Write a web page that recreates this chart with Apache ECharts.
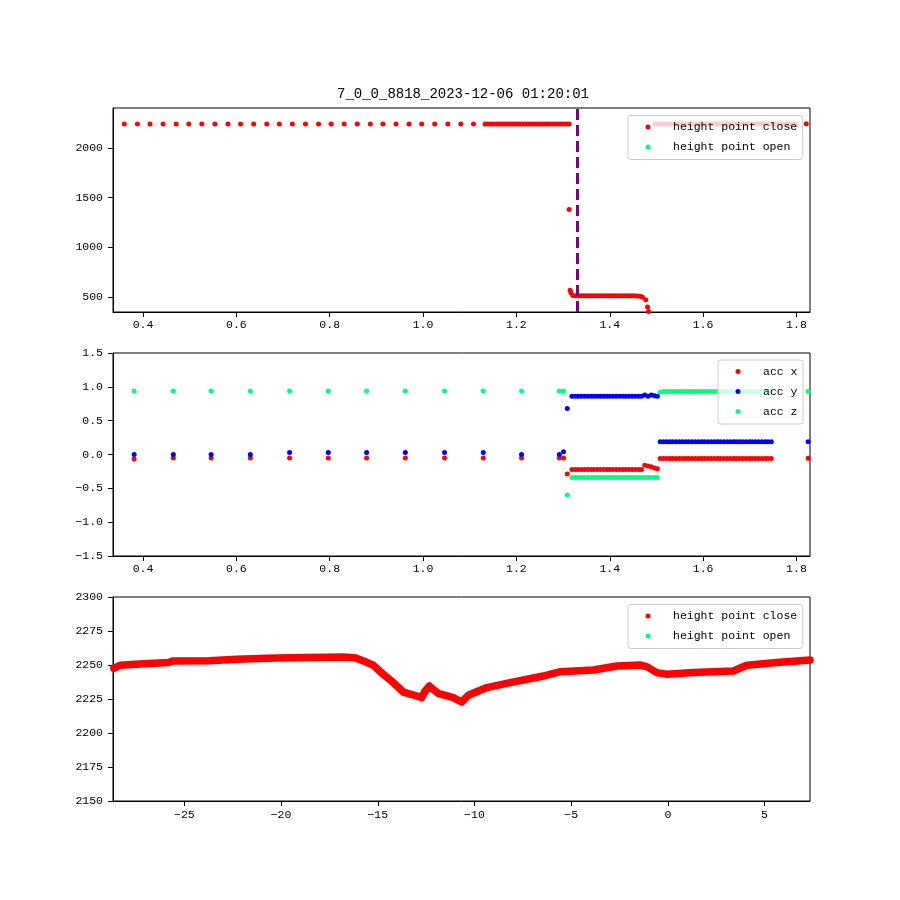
<!DOCTYPE html>
<html>
<head>
<meta charset="utf-8">
<title>height / acc</title>
<script src="https://cdn.jsdelivr.net/npm/echarts@6.0.0/dist/echarts.min.js"></script>
<style>
  html, body { margin: 0; padding: 0; background: #fff; }
  #main { width: 900px; height: 900px; }
</style>
</head>
<body>
<div id="main"></div>
<script>
// 标题
const chartTitle = '7_0_0_8818_2023-12-06 01:20:01';

// 上图: 高度点 (时间, 高度)
const heightT = [
  0.360, 0.388, 0.415, 0.443, 0.471, 0.498, 0.526, 0.554, 0.582, 0.609,
  0.637, 0.665, 0.692, 0.720, 0.748, 0.776, 0.803, 0.831, 0.859, 0.887,
  0.914, 0.942, 0.970, 0.997, 1.025, 1.053, 1.081, 1.108,
  1.133, 1.139, 1.145, 1.151, 1.157, 1.163, 1.169, 1.175, 1.181, 1.187,
  1.193, 1.199, 1.205, 1.211, 1.217, 1.223, 1.229, 1.235, 1.241, 1.247,
  1.253, 1.259, 1.265, 1.271, 1.277, 1.283, 1.289, 1.295, 1.301, 1.307,
  1.313,
  1.313, 1.315, 1.317,
  1.321, 1.327, 1.333, 1.339, 1.345, 1.351, 1.357, 1.363, 1.369, 1.375,
  1.381, 1.387, 1.393, 1.399, 1.405, 1.411, 1.417, 1.423, 1.429, 1.435,
  1.441, 1.447, 1.453, 1.459, 1.465, 1.470,
  1.477, 1.481, 1.483,
  1.497, 1.503, 1.509, 1.515, 1.521, 1.527, 1.533, 1.539, 1.545, 1.551,
  1.557, 1.563, 1.569, 1.575, 1.581, 1.587, 1.593, 1.599, 1.605, 1.611,
  1.617, 1.623, 1.629, 1.635, 1.641, 1.647, 1.653, 1.659, 1.665, 1.671,
  1.677, 1.683, 1.689, 1.695, 1.701, 1.707, 1.713, 1.719, 1.725, 1.731,
  1.737, 1.743, 1.749, 1.755, 1.761, 1.767, 1.773, 1.779, 1.785, 1.791,
  1.797, 1.821
];
const heightV = [
  2242, 2242, 2242, 2242, 2242, 2242, 2242, 2242, 2242, 2242,
  2242, 2242, 2242, 2242, 2242, 2242, 2242, 2242, 2242, 2242,
  2242, 2242, 2242, 2242, 2242, 2242, 2242, 2242,
  2242, 2242, 2242, 2242, 2242, 2242, 2242, 2242, 2242, 2242,
  2242, 2242, 2242, 2242, 2242, 2242, 2242, 2242, 2242, 2242,
  2242, 2242, 2242, 2242, 2242, 2242, 2242, 2242, 2242, 2242,
  2242,
  1380, 568, 540,
  515, 512, 512, 512, 512, 512, 512, 512, 512, 512,
  512, 512, 512, 512, 512, 512, 512, 512, 512, 512,
  512, 512, 512, 510, 508, 500,
  473, 400, 355,
  2242, 2242, 2242, 2242, 2242, 2242, 2242, 2242, 2242, 2242,
  2242, 2242, 2242, 2242, 2242, 2242, 2242, 2242, 2242, 2242,
  2242, 2242, 2242, 2242, 2242, 2242, 2242, 2242, 2242, 2242,
  2242, 2242, 2242, 2242, 2242, 2242, 2242, 2242, 2242, 2242,
  2242, 2242, 2242, 2242, 2242, 2242, 2242, 2242, 2242, 2242,
  2242, 2245
];
const openT = [];
const openV = [];
// 竖虚线位置
const switchTime = 1.331;

// 中图: 加速度
const accT = [
  0.381, 0.465, 0.546, 0.630, 0.714, 0.797, 0.879, 0.962, 1.046, 1.129, 1.211, 1.292,
  1.301, 1.309,
  1.319, 1.326, 1.332, 1.339, 1.346, 1.353, 1.360, 1.366, 1.373, 1.380,
  1.387, 1.394, 1.400, 1.407, 1.414, 1.421, 1.428, 1.434, 1.441, 1.448,
  1.455, 1.462, 1.468, 1.475, 1.482, 1.489, 1.496, 1.502,
  1.508, 1.515, 1.522, 1.529, 1.535, 1.542, 1.549, 1.556, 1.563, 1.569,
  1.576, 1.583, 1.590, 1.597, 1.603, 1.610, 1.617, 1.624, 1.631, 1.637,
  1.644, 1.651, 1.658, 1.665, 1.671, 1.678, 1.685, 1.692, 1.699, 1.705,
  1.712, 1.719, 1.726, 1.733, 1.739, 1.746,
  1.825
];
const accX = [
  -0.065, -0.05, -0.05, -0.05, -0.05, -0.05, -0.05, -0.05, -0.05, -0.05, -0.05, -0.05,
  -0.05, -0.29,
  -0.22, -0.22, -0.22, -0.22, -0.22, -0.22, -0.22, -0.22, -0.22, -0.22,
  -0.22, -0.22, -0.22, -0.22, -0.22, -0.22, -0.22, -0.22, -0.22, -0.22,
  -0.22, -0.22, -0.22, -0.16, -0.17, -0.18, -0.20, -0.21,
  -0.06, -0.06, -0.06, -0.06, -0.06, -0.06, -0.06, -0.06, -0.06, -0.06,
  -0.06, -0.06, -0.06, -0.06, -0.06, -0.06, -0.06, -0.06, -0.06, -0.06,
  -0.06, -0.06, -0.06, -0.06, -0.06, -0.06, -0.06, -0.06, -0.06, -0.06,
  -0.06, -0.06, -0.06, -0.06, -0.06, -0.06,
  -0.055
];
const accY = [
  0.0, 0.0, 0.0, 0.0, 0.03, 0.03, 0.03, 0.03, 0.03, 0.03, 0.0, 0.0,
  0.04, 0.68,
  0.86, 0.86, 0.86, 0.86, 0.86, 0.86, 0.86, 0.86, 0.86, 0.86,
  0.86, 0.86, 0.86, 0.86, 0.86, 0.86, 0.86, 0.86, 0.86, 0.86,
  0.86, 0.86, 0.86, 0.88, 0.86, 0.88, 0.87, 0.86,
  0.19, 0.19, 0.19, 0.19, 0.19, 0.19, 0.19, 0.19, 0.19, 0.19,
  0.19, 0.19, 0.19, 0.19, 0.19, 0.19, 0.19, 0.19, 0.19, 0.19,
  0.19, 0.19, 0.19, 0.19, 0.19, 0.19, 0.19, 0.19, 0.19, 0.19,
  0.19, 0.19, 0.19, 0.19, 0.19, 0.19,
  0.19
];
const accZ = [
  0.94, 0.94, 0.94, 0.94, 0.94, 0.94, 0.94, 0.94, 0.94, 0.94, 0.94, 0.94,
  0.94, -0.60,
  -0.34, -0.34, -0.34, -0.34, -0.34, -0.34, -0.34, -0.34, -0.34, -0.34,
  -0.34, -0.34, -0.34, -0.34, -0.34, -0.34, -0.34, -0.34, -0.34, -0.34,
  -0.34, -0.34, -0.34, -0.34, -0.34, -0.34, -0.34, -0.34,
  0.92, 0.93, 0.93, 0.93, 0.93, 0.93, 0.93, 0.93, 0.93, 0.93,
  0.93, 0.93, 0.93, 0.93, 0.93, 0.93, 0.93, 0.93, 0.93, 0.93,
  0.93, 0.93, 0.93, 0.93, 0.93, 0.93, 0.93, 0.93, 0.93, 0.93,
  0.93, 0.93, 0.93, 0.93, 0.93, 0.93,
  0.93
];

// 下图: 高度曲线
const baroT = [
  -28.65, -28.55, -28.33, -27.12, -25.83, -25.57, -23.74, -22.29, -20.74, -19.71,
  -16.78, -16.17, -15.74, -15.23, -14.71, -14.19, -13.68, -12.98, -12.73, -12.55,
  -12.33, -12.13, -11.87, -11.09, -10.66, -10.32, -9.36, -8.16, -6.44, -5.57,
  -3.85, -2.64, -1.44, -1.09, -0.57, -0.06, 1.32, 3.39, 4.08, 5.63, 7.35
];
const baroV = [
  2247.5, 2248.0, 2249.8, 2251.0, 2251.8, 2253.0, 2253.2, 2254.2, 2254.9, 2255.4,
  2255.9, 2255.4, 2253.0, 2249.8, 2243.1, 2237.0, 2230.1, 2227.2, 2226.0, 2230.9,
  2234.5, 2232.1, 2229.2, 2226.0, 2222.8, 2227.7, 2233.4, 2237.0, 2241.9, 2245.1,
  2246.3, 2249.3, 2250.0, 2248.8, 2244.4, 2243.2, 2244.4, 2245.6, 2249.8, 2251.8, 2253.7
];

// 刻度
const timeTicks = [0.4, 0.6, 0.8, 1.0, 1.2, 1.4, 1.6, 1.8];
const heightTicks = [500, 1000, 1500, 2000];
const baroTicks = [-25, -20, -15, -10, -5, 0, 5];

const font = "'Liberation Mono', 'DejaVu Sans Mono', monospace";
const RED = '#ff0000', BLUE = '#0000ff', GREEN = '#00ff7f';

function zip(a, b) {
  let out = [];
  for (let i = 0; i < Math.min(a.length, b.length); i++) out.push([a[i], b[i]]);
  return out;
}
function minus(v) {
  return String(v).replace('-', '\u2212');
}

function valueAxis(gi, min, max, extra) {
  let ax = {
    type: 'value',
    gridIndex: gi,
    min: min,
    max: max,
    splitLine: { show: false },
    axisLine: { show: true, onZero: false, lineStyle: { color: '#000', width: 1 } },
    axisTick: { show: true, length: 5, lineStyle: { color: '#000', width: 1 } },
    axisLabel: { color: '#000', fontFamily: font, fontSize: 11.5 }
  };
  if (extra.ticks) {
    ax.axisTick.customValues = extra.ticks;
    ax.axisLabel.customValues = extra.ticks;
  }
  if (extra.interval) ax.interval = extra.interval;
  ax.axisLabel.formatter = extra.fmt;
  ax.axisLabel.margin = extra.margin;
  return ax;
}

// 图例: 圆点居中在 markerX, 文字从 textX 开始
function legendBox(names, left, top, markerX, textX) {
  let padLeft = markerX - 2.5 - left;
  let textPad = textX - (markerX + 2.5) - 5;
  return {
    data: names,
    orient: 'vertical',
    left: left,
    top: top,
    icon: 'circle',
    itemWidth: 5,
    itemHeight: 5,
    itemGap: 6,
    padding: [4.5, 5.5, 5.5, padLeft],
    backgroundColor: 'rgba(255,255,255,0.8)',
    borderColor: '#cccccc',
    borderWidth: 1,
    borderRadius: 3,
    selectedMode: false,
    itemStyle: { borderWidth: 0 },
    textStyle: {
      color: '#000', fontFamily: font, fontSize: 11.5, lineHeight: 14,
      padding: [0, 0, 0, textPad]
    }
  };
}

var myChart = echarts.init(document.getElementById('main'), null, { renderer: 'canvas' });

var gridStyle = { show: true, borderColor: '#000', borderWidth: 1, backgroundColor: 'transparent' };

var option = {
  animation: false,
  backgroundColor: '#fff',
  title: {
    text: chartTitle,
    left: 458,
    textAlign: 'center',
    top: 82,
    textStyle: { color: '#000', fontFamily: font, fontSize: 14, fontWeight: 'normal' }
  },
  grid: [
    Object.assign({ left: 113, top: 108, width: 697, height: 204 }, gridStyle),
    Object.assign({ left: 113, top: 353, width: 697, height: 203 }, gridStyle),
    Object.assign({ left: 113, top: 597, width: 697, height: 204 }, gridStyle)
  ],
  legend: [
    legendBox(['height point close', 'height point open'], 628, 115.5, 648, 673),
    legendBox(['acc x', 'acc y', 'acc z'], 718, 360, 738, 763),
    legendBox(['height point close', 'height point open'], 628, 604.5, 648, 673)
  ],
  xAxis: [
    valueAxis(0, 0.3357, 1.829, { ticks: timeTicks, fmt: v => v.toFixed(1), margin: 7 }),
    valueAxis(1, 0.3357, 1.829, { ticks: timeTicks, fmt: v => v.toFixed(1), margin: 7 }),
    valueAxis(2, -28.69, 7.35, { ticks: baroTicks, fmt: v => minus(v), margin: 8 })
  ],
  yAxis: [
    valueAxis(0, 349, 2403, { ticks: heightTicks, fmt: v => String(v), margin: 10 }),
    valueAxis(1, -1.5, 1.5, { interval: 0.5, fmt: v => minus(v.toFixed(1)), margin: 10 }),
    valueAxis(2, 2150, 2300, { interval: 25, fmt: v => String(v), margin: 10 })
  ],
  series: [
    {
      name: 'height point close', type: 'scatter', xAxisIndex: 0, yAxisIndex: 0,
      symbolSize: 5, itemStyle: { color: RED, opacity: 1 }, clip: true,
      data: zip(heightT, heightV),
      markLine: {
        silent: true,
        symbol: ['none', 'none'],
        label: { show: false },
        lineStyle: { color: '#800080', width: 3, type: [11, 5], opacity: 1 },
        data: [{ xAxis: switchTime }]
      }
    },
    {
      name: 'height point open', type: 'scatter', xAxisIndex: 0, yAxisIndex: 0,
      symbolSize: 5, itemStyle: { color: GREEN, opacity: 1 }, data: zip(openT, openV)
    },
    {
      name: 'acc x', type: 'scatter', xAxisIndex: 1, yAxisIndex: 1,
      symbolSize: 5, itemStyle: { color: RED, opacity: 1 }, data: zip(accT, accX)
    },
    {
      name: 'acc y', type: 'scatter', xAxisIndex: 1, yAxisIndex: 1,
      symbolSize: 5, itemStyle: { color: BLUE, opacity: 1 }, data: zip(accT, accY)
    },
    {
      name: 'acc z', type: 'scatter', xAxisIndex: 1, yAxisIndex: 1,
      symbolSize: 5, itemStyle: { color: GREEN, opacity: 1 }, data: zip(accT, accZ)
    },
    {
      name: 'height point close', type: 'line', xAxisIndex: 2, yAxisIndex: 2,
      showSymbol: false, symbol: 'none', clip: true,
      itemStyle: { color: RED },
      lineStyle: { color: RED, width: 7.5, cap: 'round', join: 'round' },
      data: zip(baroT, baroV)
    },
    {
      name: 'height point open', type: 'scatter', xAxisIndex: 2, yAxisIndex: 2,
      symbolSize: 5, itemStyle: { color: GREEN, opacity: 1 }, data: zip(openT, openV)
    }
  ]
};
myChart.setOption(option);
</script>
</body>
</html>
